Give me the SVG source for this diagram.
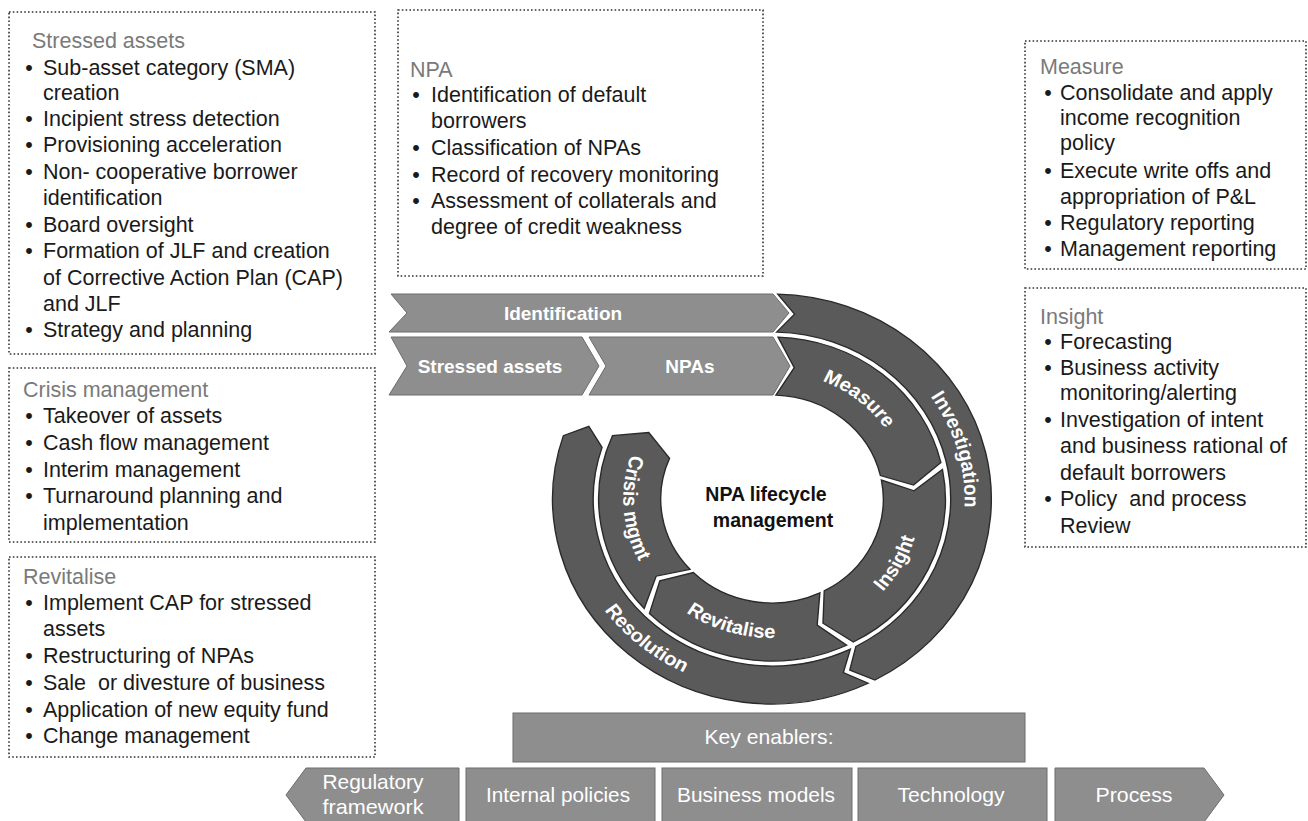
<svg xmlns="http://www.w3.org/2000/svg" width="1308" height="821" viewBox="0 0 1308 821">
<style>
.box{fill:#fff;stroke:#333;stroke-width:1.6;stroke-dasharray:1.6 2.2}
.hd{font-family:"Liberation Sans",Arial,sans-serif;font-size:21.5px;fill:#7a7a7a}
.tx{font-family:"Liberation Sans",Arial,sans-serif;font-size:21.5px;fill:#1a1a1a;white-space:pre}
.bl{font-family:"Liberation Sans",Arial,sans-serif;font-size:21.5px;fill:#1a1a1a;text-anchor:middle}
.band{fill:#5a5a5a;stroke:#2a2a2a;stroke-width:1.3}
.chev{fill:#8e8e8e;stroke:#6c6c6c;stroke-width:1}
.ct{font-family:"Liberation Sans",Arial,sans-serif;font-weight:bold;font-size:19px;fill:#fff;text-anchor:middle}
.rt{font-family:"Liberation Sans",Arial,sans-serif;font-weight:bold;font-size:19px;fill:#fff}
.kt{font-family:"Liberation Sans",Arial,sans-serif;font-size:21px;fill:#fff;text-anchor:middle}
.center{font-family:"Liberation Sans",Arial,sans-serif;font-weight:bold;font-size:19.5px;fill:#111;text-anchor:middle}
</style>
<defs>
<path id="pMeasure" d="M -24.23 -124.67 A 127 127 0 0 1 126.98 -2.22"/>
<path id="pInvest" d="M 73.21 -164.44 A 180 180 0 0 1 149.22 100.65"/>
<path id="pInsight" d="M 26.52 136.45 A 139 139 0 0 0 129.77 -49.81"/>
<path id="pRevit" d="M -127.95 54.31 A 139 139 0 0 0 75.70 116.58"/>
<path id="pResol" d="M -192 0 A 192 192 0 0 0 33.34 189.08"/>
<path id="pCrisis" d="M -96.56 -99.99 A 139 139 0 0 0 -81.70 112.45"/>
</defs>
<rect width="1308" height="821" fill="#fff"/>

<g id="box-stressed">
<rect class="box" x="9" y="12" width="366" height="342"/>
<text class="hd" x="32" y="48">Stressed assets</text>
<text class="bl" x="29" y="75">•</text><text class="tx" x="43" y="75">Sub-asset category (SMA)</text>
<text class="tx" x="43" y="100">creation</text>
<text class="bl" x="29" y="126">•</text><text class="tx" x="43" y="126">Incipient stress detection</text>
<text class="bl" x="29" y="152">•</text><text class="tx" x="43" y="152">Provisioning acceleration</text>
<text class="bl" x="29" y="179">•</text><text class="tx" x="43" y="179">Non- cooperative borrower</text>
<text class="tx" x="43" y="205">identification</text>
<text class="bl" x="29" y="232">•</text><text class="tx" x="43" y="232">Board oversight</text>
<text class="bl" x="29" y="258">•</text><text class="tx" x="43" y="258">Formation of JLF and creation</text>
<text class="tx" x="43" y="285">of Corrective Action Plan (CAP)</text>
<text class="tx" x="43" y="311">and JLF</text>
<text class="bl" x="29" y="337">•</text><text class="tx" x="43" y="337">Strategy and planning</text>
</g>

<g id="box-crisis">
<rect class="box" x="9" y="368" width="366" height="174"/>
<text class="hd" x="23" y="397">Crisis management</text>
<text class="bl" x="29" y="423">•</text><text class="tx" x="43" y="423">Takeover of assets</text>
<text class="bl" x="29" y="450">•</text><text class="tx" x="43" y="450">Cash flow management</text>
<text class="bl" x="29" y="477">•</text><text class="tx" x="43" y="477">Interim management</text>
<text class="bl" x="29" y="503">•</text><text class="tx" x="43" y="503">Turnaround planning and</text>
<text class="tx" x="43" y="530">implementation</text>
</g>

<g id="box-revitalise">
<rect class="box" x="9" y="557" width="366" height="200"/>
<text class="hd" x="23" y="584">Revitalise</text>
<text class="bl" x="29" y="610">•</text><text class="tx" x="43" y="610">Implement CAP for stressed</text>
<text class="tx" x="43" y="636">assets</text>
<text class="bl" x="29" y="663">•</text><text class="tx" x="43" y="663">Restructuring of NPAs</text>
<text class="bl" x="29" y="690">•</text><text class="tx" x="43" y="690">Sale  or divesture of business</text>
<text class="bl" x="29" y="717">•</text><text class="tx" x="43" y="717">Application of new equity fund</text>
<text class="bl" x="29" y="743">•</text><text class="tx" x="43" y="743">Change management</text>
</g>

<g id="box-npa">
<rect class="box" x="398" y="10" width="365" height="266"/>
<text class="hd" x="410" y="77">NPA</text>
<text class="bl" x="416" y="102">•</text><text class="tx" x="431" y="102">Identification of default</text>
<text class="tx" x="431" y="128">borrowers</text>
<text class="bl" x="416" y="155">•</text><text class="tx" x="431" y="155">Classification of NPAs</text>
<text class="bl" x="416" y="182">•</text><text class="tx" x="431" y="182">Record of recovery monitoring</text>
<text class="bl" x="416" y="208">•</text><text class="tx" x="431" y="208">Assessment of collaterals and</text>
<text class="tx" x="431" y="234">degree of credit weakness</text>
</g>

<g id="box-measure">
<rect class="box" x="1025" y="41" width="281" height="228"/>
<text class="hd" x="1040" y="74">Measure</text>
<text class="bl" x="1048" y="100">•</text><text class="tx" x="1060" y="100">Consolidate and apply</text>
<text class="tx" x="1060" y="125">income recognition</text>
<text class="tx" x="1060" y="150">policy</text>
<text class="bl" x="1048" y="178">•</text><text class="tx" x="1060" y="178">Execute write offs and</text>
<text class="tx" x="1060" y="204">appropriation of P&amp;L</text>
<text class="bl" x="1048" y="230">•</text><text class="tx" x="1060" y="230">Regulatory reporting</text>
<text class="bl" x="1048" y="256">•</text><text class="tx" x="1060" y="256">Management reporting</text>
</g>

<g id="box-insight">
<rect class="box" x="1025" y="288" width="281" height="259"/>
<text class="hd" x="1040" y="324">Insight</text>
<text class="bl" x="1048" y="349">•</text><text class="tx" x="1060" y="349">Forecasting</text>
<text class="bl" x="1048" y="375">•</text><text class="tx" x="1060" y="375">Business activity</text>
<text class="tx" x="1060" y="400">monitoring/alerting</text>
<text class="bl" x="1048" y="427">•</text><text class="tx" x="1060" y="427">Investigation of intent</text>
<text class="tx" x="1060" y="453">and business rational of</text>
<text class="tx" x="1060" y="480">default borrowers</text>
<text class="bl" x="1048" y="506">•</text><text class="tx" x="1060" y="506">Policy  and process</text>
<text class="tx" x="1060" y="533">Review</text>
</g>

<g id="chevron-identification">
<polygon class="chev" points="391,294 773,294 789,313 773,332 389,332 407,313"/>
<text class="ct" x="563" y="320">Identification</text>
</g>
<g id="chevron-stressed">
<polygon class="chev" points="391,337 582,337 599,366 582,395 389,395 407,366"/>
<text class="ct" x="490" y="373">Stressed assets</text>
</g>
<g id="chevron-npas">
<polygon class="chev" points="589,337 773,337 790,366 773,395 589,395 606,366"/>
<text class="ct" x="690" y="373">NPAs</text>
</g>

<g id="ring" transform="translate(772,499) scale(1.07,1)">
<g id="seg-investigation">
<path class="band" d="M 5.37 -204.93 A 205 205 0 0 1 96.24 181.00 L 72.68 171.21 L 78.40 147.45 A 167 167 0 0 0 4.37 -166.94 L 21.06 -184.80 Z"/>
<text class="rt"><textPath href="#pInvest" startOffset="50%" text-anchor="middle">Investigation</textPath></text>
</g>
<g id="seg-resolution">
<path class="band" d="M 89.87 184.25 A 205 205 0 0 1 -194.97 -63.35 L -171.21 -72.68 L -158.83 -51.61 A 167 167 0 0 0 73.21 150.10 L 66.66 173.65 Z"/>
<text class="rt"><textPath href="#pResol" startOffset="50%" text-anchor="middle">Resolution</textPath></text>
</g>
<g id="seg-measure">
<path class="band" d="M 5.65 -161.90 A 162 162 0 0 1 157.85 -36.44 L 132.27 -13.90 L 101.33 -23.39 A 104 104 0 0 0 3.63 -103.94 L 20.81 -131.36 Z"/>
<text class="rt"><textPath href="#pMeasure" startOffset="50%" text-anchor="middle">Measure</textPath></text>
</g>
<g id="seg-insight">
<path class="band" d="M 159.29 -29.52 A 162 162 0 0 1 76.05 143.04 L 47.66 124.17 L 48.82 91.83 A 104 104 0 0 0 102.26 -18.95 L 132.75 -8.12 Z"/>
<text class="rt"><textPath href="#pInsight" startOffset="50%" text-anchor="middle">Insight</textPath></text>
</g>
<g id="seg-revitalise">
<path class="band" d="M 69.74 146.22 A 162 162 0 0 1 -114.55 114.55 L -104.81 81.88 L -73.54 73.54 A 104 104 0 0 0 44.77 93.87 L 42.20 126.13 Z"/>
<text class="rt"><textPath href="#pRevit" startOffset="50%" text-anchor="middle">Revitalise</textPath></text>
</g>
<g id="seg-crisis">
<path class="band" d="M -119.44 109.45 A 162 162 0 0 1 -149.12 -63.30 L -115.18 -66.5 L -95.73 -40.64 A 104 104 0 0 0 -76.68 70.26 L -108.28 77.23 Z"/>
<text class="rt"><textPath href="#pCrisis" startOffset="50%" text-anchor="middle">Crisis mgmt</textPath></text>
</g>
</g>

<g id="center-label">
<text class="center" x="766" y="501">NPA lifecycle</text>
<text class="center" x="773" y="527">management</text>
</g>

<g id="key-enablers">
<rect class="chev" x="513" y="713" width="512" height="49"/>
<text class="kt" x="769" y="744" textLength="129" lengthAdjust="spacingAndGlyphs">Key enablers:</text>
</g>
<g id="enabler-regulatory">
<polygon class="chev" points="286,795 306,768 459,768 459,822 306,822"/>
<text class="kt" x="373" y="789" textLength="101" lengthAdjust="spacingAndGlyphs">Regulatory</text>
<text class="kt" x="373" y="814" textLength="101" lengthAdjust="spacingAndGlyphs">framework</text>
</g>
<g id="enabler-internal">
<rect class="chev" x="466" y="768" width="189" height="54"/>
<text class="kt" x="558" y="802" textLength="144" lengthAdjust="spacingAndGlyphs">Internal policies</text>
</g>
<g id="enabler-business">
<rect class="chev" x="662" y="768" width="190" height="54"/>
<text class="kt" x="756" y="802" textLength="158" lengthAdjust="spacingAndGlyphs">Business models</text>
</g>
<g id="enabler-technology">
<rect class="chev" x="858" y="768" width="189" height="54"/>
<text class="kt" x="951" y="802" textLength="107" lengthAdjust="spacingAndGlyphs">Technology</text>
</g>
<g id="enabler-process">
<polygon class="chev" points="1055,768 1204,768 1224,795 1204,822 1055,822"/>
<text class="kt" x="1134" y="802" textLength="77" lengthAdjust="spacingAndGlyphs">Process</text>
</g>
<g id="connectors"></g>
</svg>
